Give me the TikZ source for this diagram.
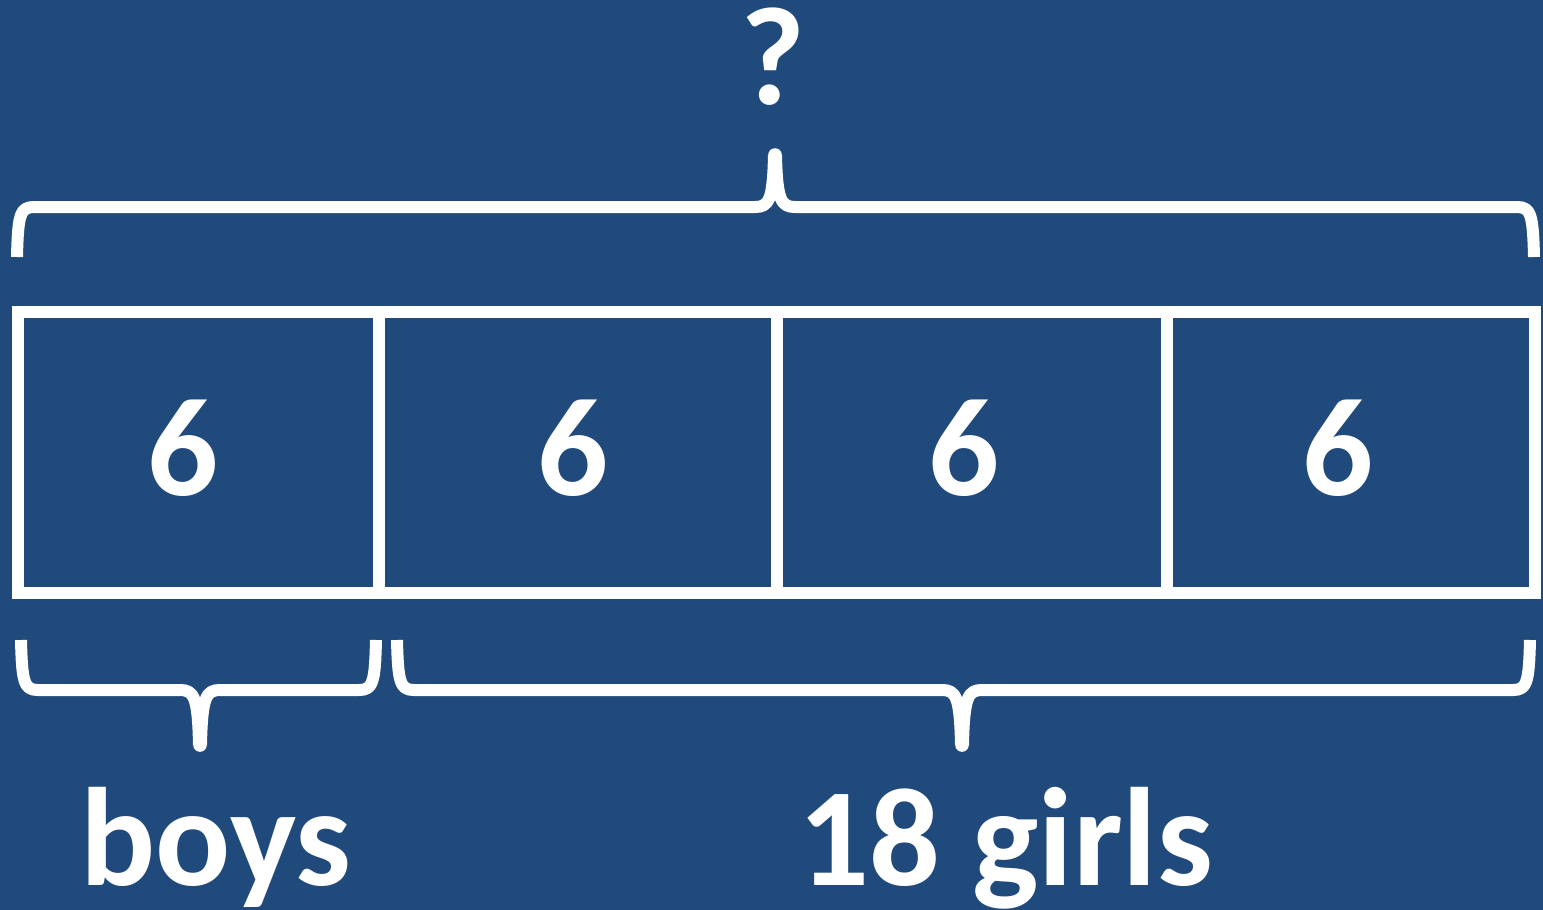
\documentclass[tikz,border=0pt]{standalone}
\usepackage{fontspec}
\setmainfont{Carlito}
\definecolor{bgblue}{RGB}{33,74,124}
\begin{document}
\begin{tikzpicture}[x=0.5pt,y=-0.5pt,
  cell/.style={draw=white, line width=6pt, rectangle, inner sep=0pt},
  numlabel/.style={text=white, font=\fontsize{70}{70}\selectfont\bfseries, inner sep=0pt},
  bracestroke/.style={draw=white, line width=6pt, line cap=butt, line join=round},
  bracetip/.style={fill=white}]
\useasboundingbox (0,0) rectangle (1543,910);
\fill[bgblue] (0,0) rectangle (1543,910);

% bar cells (center-line borders)
\node[cell, minimum width=180.5pt, minimum height=140.5pt] (c1) at (198.5,452.5) {};
\node[cell, minimum width=199pt, minimum height=140.5pt] (c2) at (578,452.5) {};
\node[cell, minimum width=195pt, minimum height=140.5pt] (c3) at (972,452.5) {};
\node[cell, minimum width=184pt, minimum height=140.5pt] (c4) at (1351,452.5) {};

\node[numlabel] (n1) at (183,448) {6};
\node[numlabel] (n2) at (573,448) {6};
\node[numlabel] (n3) at (964,448) {6};
\node[numlabel] (n4) at (1338,448) {6};

% top brace
\coordinate (tl) at (17,257);
\coordinate (tr) at (1534,257);
\coordinate (tt) at (775,155);
\draw[bracestroke] (tl) .. controls (18,215) and (20,207) .. (34,207) -- (755,207)
  .. controls (769,207) and (773,200) .. (774,155);
\draw[bracestroke] (tr) .. controls (1533,215) and (1531,207) .. (1517,207) -- (795,207)
  .. controls (781,207) and (777,200) .. (776,155);
\fill[bracetip] (tt) circle[radius=3.4pt];
\node[numlabel, anchor=base] (q) at (773,104) {?};

% boys brace
\coordinate (bl) at (21,640);
\coordinate (br) at (376,640);
\coordinate (bt) at (200,745);
\draw[bracestroke] (bl) .. controls (22,682) and (24,690) .. (38,690) -- (180,690)
  .. controls (194,690) and (198,697) .. (199,745);
\draw[bracestroke] (br) .. controls (375,682) and (373,690) .. (359,690) -- (220,690)
  .. controls (206,690) and (202,697) .. (201,745);
\fill[bracetip] (bt) circle[radius=3.4pt];

% girls brace
\coordinate (gl) at (397,640);
\coordinate (gr) at (1530,640);
\coordinate (gt) at (962,745);
\draw[bracestroke] (gl) .. controls (398,682) and (400,690) .. (414,690) -- (942,690)
  .. controls (956,690) and (960,697) .. (961,745);
\draw[bracestroke] (gr) .. controls (1529,682) and (1527,690) .. (1513,690) -- (982,690)
  .. controls (968,690) and (964,697) .. (963,745);
\fill[bracetip] (gt) circle[radius=3.4pt];

\node[numlabel, anchor=base] (boys) at (216,885) {boys};
\node[numlabel, anchor=base] (girls) at (1006,885) {18 girls};
\end{tikzpicture}
\end{document}
